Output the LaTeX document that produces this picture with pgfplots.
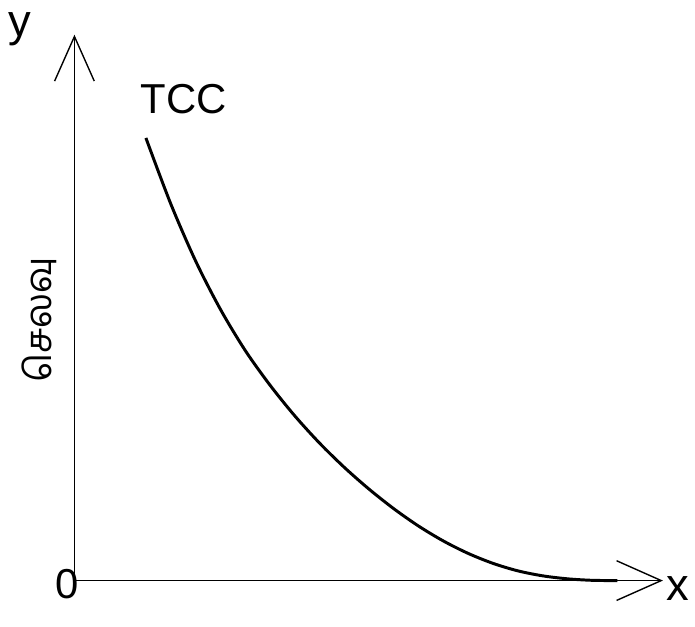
\documentclass[border=0pt]{standalone}
\usepackage{fontspec}
\setmainfont{Liberation Sans}
\newfontfamily\tamil[Script=Tamil]{Hind Madurai}
\usepackage{pgfplots}
\pgfplotsset{compat=1.18}
\usetikzlibrary{arrows.meta}

\begin{document}
\begin{tikzpicture}
	\begin{axis}[
			x=0.02cm, y=0.02cm,
			xmin=0, xmax=593,
			ymin=0, ymax=550,
			axis lines=left,
			axis line style={line width=0.8pt, -{Straight Barb[length=0.9cm, width=0.8cm]}},
			xtick=\empty, ytick=\empty,
			clip=false]

		\addplot[black, line width=1.7pt, smooth] coordinates {
			(72,446)
			(97,379.75)
			(122,322.25)
			(147,273.5)
			(172,232)
			(197,197)
			(222,166)
			(247,138.5)
			(272,114)
			(297,92)
			(322,72.25)
			(347,54.75)
			(372,39.75)
			(397,27.25)
			(422,17.25)
			(447,9.75)
			(472,4.75)
			(497,1.75)
			(522,0.25)
			(547,0)
		};

		\node[font=\fontsize{26}{30}\selectfont] at (axis cs:-55,556) {y};
		\node[font=\fontsize{26}{30}\selectfont] at (axis cs:608,-8) {x};
		\node[font=\fontsize{24}{28}\selectfont] at (axis cs:-7,-4) {0};
		\node[font=\fontsize{24}{28}\selectfont] at (axis cs:110,485) {TCC};
		\node[rotate=90, font=\fontsize{21}{25}\selectfont] at (axis cs:-35,263) {\tamil செலவு};

		\path (axis cs:-75,-46) rectangle (axis cs:620,585);
	\end{axis}
\end{tikzpicture}
\end{document}
